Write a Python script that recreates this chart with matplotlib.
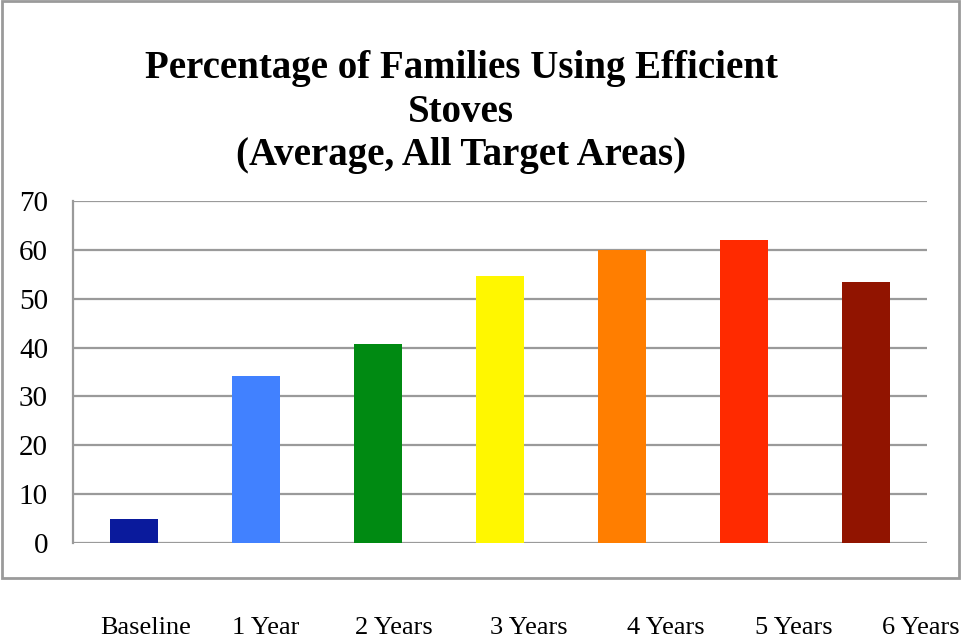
import matplotlib
matplotlib.use("Agg")
import matplotlib.pyplot as plt
import matplotlib.patches as patches

# average share of families using efficient stoves, all target areas
periods = ["Baseline", "1 Year", "2 Years", "3 Years", "4 Years", "5 Years", "6 Years"]
percent = [5, 34.2, 40.7, 54.6, 60, 62, 53.4]
bar_colors = ["#0A1A9C", "#4181FF", "#008A12", "#FFF700", "#FF7E00", "#FF2A00", "#911400"]
yticks = [0, 10, 20, 30, 40, 50, 60, 70]

W, H = 961, 642
fig = plt.figure(figsize=(W / 100, H / 100), dpi=100)
fig.patch.set_facecolor("white")

# plot area in pixels: left 73, right 927, top 201, bottom 543
ax = fig.add_axes([73 / W, (H - 543) / H, 854 / W, 342 / H])
ax.bar(range(len(periods)), percent, width=0.4, color=bar_colors, zorder=3)
ax.set_xlim(-0.5, len(periods) - 0.5)
ax.set_ylim(0, 70)
ax.set_yticks(yticks)
ax.set_yticklabels([str(t) for t in yticks], family="Liberation Serif", fontsize=21)
ax.set_xticks([])
ax.tick_params(axis="y", length=0, pad=18)
ax.grid(axis="y", color="#9a9a9a", linewidth=1.6, zorder=0)
for side in ["top", "right", "bottom"]:
    ax.spines[side].set_visible(False)
ax.spines["left"].set_color("#9a9a9a")
ax.spines["left"].set_linewidth(1.6)

# grey frame around the chart
frame = patches.Rectangle((2 / W, (H - 578) / H), 957 / W, 577 / H,
                          transform=fig.transFigure, fill=False,
                          edgecolor="#9a9a9a", linewidth=2)
fig.patches.append(frame)

fig.text(461 / W, 1 - 112 / H,
         "Percentage of Families Using Efficient\nStoves\n(Average, All Target Areas)",
         ha="center", va="center", family="Liberation Serif", fontweight="bold",
         fontsize=28, linespacing=1.22)

# category labels sit below the frame
label_x = [100, 232, 355, 490, 627, 755, 882]
for x, name in zip(label_x, periods):
    fig.text(x / W, 1 - 634 / H, name, ha="left", va="baseline",
             family="Liberation Serif", fontsize=19)

fig.savefig("out.png", dpi=100)
